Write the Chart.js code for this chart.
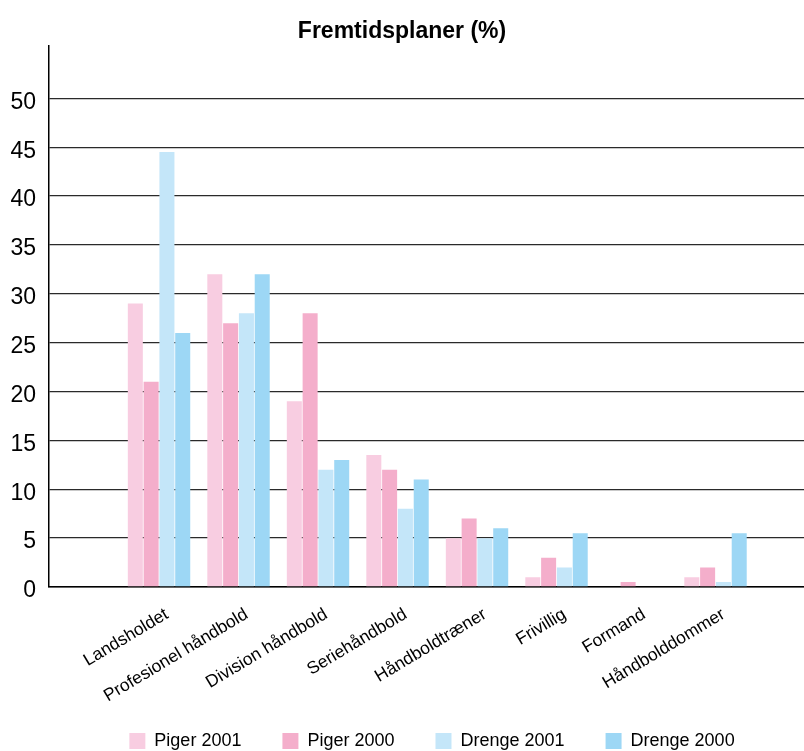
<!DOCTYPE html>
<html>
<head>
<meta charset="utf-8">
<script src="https://cdn.jsdelivr.net/npm/chart.js@4.4.1/dist/chart.umd.min.js"></script>
<style>
  html, body { margin: 0; padding: 0; background: #fff; overflow: hidden; }
  #wrap { width: 804px; height: 784px; }
</style>
</head>
<body>
<div id="wrap"><canvas id="c" width="804" height="784"></canvas></div>
<script>
const categories = ["Landsholdet", "Profesionel håndbold", "Division håndbold", "Seriehåndbold",
  "Håndboldtræner", "Frivillig", "Formand", "Håndbolddommer"];
const seriesNames = ["Piger 2001", "Piger 2000", "Drenge 2001", "Drenge 2000"];
const piger2001 = [29, 32, 19, 13.5, 5, 1, 0, 1];
const piger2000 = [21, 27, 28, 12, 7, 3, 0.5, 2];
const drenge2001 = [44.5, 28, 12, 8, 5, 2, 0, 0.5];
const drenge2000 = [26, 32, 13, 11, 6, 5.5, 0, 5.5];
const yTicks = [0, 5, 10, 15, 20, 25, 30, 35, 40, 45, 50];
const titleText = "Fremtidsplaner (%)";

const colors = ["#f8cde1", "#f4aecb", "#c4e6f9", "#9dd7f5"];
const FONT = "'Liberation Sans', Arial, sans-serif";

const allSeries = [piger2001, piger2000, drenge2001, drenge2000];
const datasets = allSeries.map((arr, s) => ({
  label: seriesNames[s],
  data: arr.map((v, i) => ({ x: i, y: v })),
  backgroundColor: colors[s],
  borderWidth: 0,
  categoryPercentage: 0.795,
  barPercentage: 0.95
}));

// Pull the legend up close under the rotated category labels (as in the original)
const legendShift = {
  id: 'legendShift',
  afterLayout(chart) {
    const lg = chart.legend;
    if (!lg) return;
    const h = lg.bottom - lg.top;
    const newTop = chart.scales.x.bottom - 24;
    lg.top = newTop;
    lg.bottom = newTop + h;
    lg.left += 30;
    lg.right += 30;
  }
};

new Chart(document.getElementById('c'), {
  type: 'bar',
  data: { datasets },
  plugins: [legendShift],
  options: {
    responsive: false,
    animation: false,
    layout: { padding: { left: 0, right: 0, top: 0, bottom: 0 } },
    plugins: {
      title: {
        display: true,
        text: titleText,
        color: '#000',
        font: { family: FONT, size: 23, weight: 'bold' },
        padding: { top: 18, bottom: 0 }
      },
      legend: {
        position: 'bottom',
        labels: {
          color: '#000',
          font: { family: FONT, size: 18 },
          boxWidth: 16,
          boxHeight: 16,
          padding: 41
        }
      },
      tooltip: { enabled: false }
    },
    scales: {
      x: {
        type: 'linear',
        offset: false,
        min: -1.384,
        max: 8.113,
        grid: { display: false, drawTicks: false },
        border: { display: true, color: '#000', width: 1.5 },
        afterBuildTicks: (scale) => { scale.ticks = categories.map((_, i) => ({ value: i })); },
        afterFit: (scale) => { scale.height = 128; },
        ticks: {
          autoSkip: false,
          minRotation: 31,
          maxRotation: 31,
          padding: 17,
          labelOffset: 8,
          color: '#000',
          font: { family: FONT, size: 17.5 },
          callback: (v) => categories[v] !== undefined ? categories[v] : ''
        }
      },
      y: {
        min: 0,
        max: 55.4,
        afterBuildTicks: (scale) => { scale.ticks = yTicks.map(v => ({ value: v })); },
        afterFit: (scale) => { scale.width = 49; },
        grid: { color: '#2a2a2a', lineWidth: 1.3, drawTicks: false },
        border: { display: true, color: '#000', width: 1.5 },
        ticks: {
          padding: 13,
          labelOffset: 4,
          color: '#000',
          font: { family: FONT, size: 23 }
        }
      }
    }
  }
});
</script>
</body>
</html>
